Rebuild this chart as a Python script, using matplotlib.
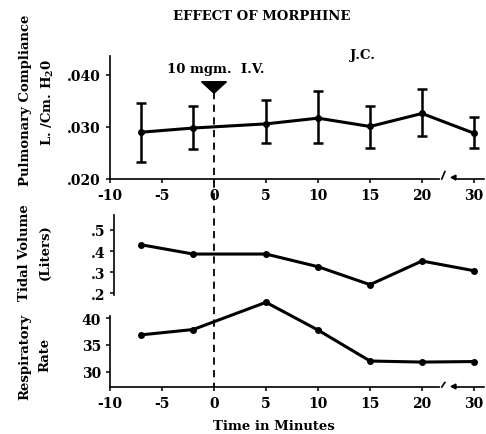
import matplotlib
matplotlib.use('Agg')
import matplotlib.pyplot as plt
from matplotlib.transforms import blended_transform_factory
from matplotlib.lines import Line2D

plt.rcParams['font.family'] = ['DejaVu Serif']
plt.rcParams['font.weight'] = 'bold'
plt.rcParams['mathtext.fontset'] = 'dejavuserif'
plt.rcParams['mathtext.default'] = 'bf'

# data (time in minutes)
minutes = [-7, -2, 5, 10, 15, 20, 30]
compliance = [0.0290, 0.0298, 0.0306, 0.0317, 0.0301, 0.0326, 0.0288]
compliance_hi = [0.0346, 0.0341, 0.0352, 0.0369, 0.0341, 0.0373, 0.0320]
compliance_lo = [0.0232, 0.0258, 0.0269, 0.0269, 0.0260, 0.0283, 0.0260]
tidal_volume = [0.430, 0.386, 0.386, 0.326, 0.241, 0.353, 0.307]
resp_rate = [36.9, 37.9, 43.0, 37.8, 32.0, 31.8, 31.9]

x_ticks = [-10, -5, 0, 5, 10, 15, 20, 30]


def pos(t):
    # axis is broken after 20: 20..30 squeezed into 5 units
    return t if t <= 20 else 20 + (t - 20) / 2


W, H = 486, 435
fig = plt.figure(figsize=(W / 100, H / 100), dpi=100)


def rect(left, top, right, bottom):
    return [left / W, 1 - bottom / H, (right - left) / W, (bottom - top) / H]


xl = (-10, 26)
ax_top = fig.add_axes(rect(110, 57, 484.4, 180))
ax_tv = fig.add_axes(rect(110, 210, 484.4, 310))
ax_rr = fig.add_axes(rect(110, 312, 484.4, 388))
ax_tv.patch.set_alpha(0)
ax_rr.patch.set_alpha(0)

xs = [pos(t) for t in minutes]
lw = 2.2

# pulmonary compliance with error bars
yerr = [[c - lo for c, lo in zip(compliance, compliance_lo)],
        [hi - c for c, hi in zip(compliance, compliance_hi)]]
ax_top.errorbar(xs, compliance, yerr=yerr, color='black', lw=lw, elinewidth=1.8,
                capsize=3.5, capthick=1.8, marker='o', ms=4)
ax_top.set_ylim(0.020, 0.04365)
ax_top.set_yticks([0.020, 0.030, 0.040])
ax_top.set_yticklabels(['.020', '.030', '.040'])

ax_tv.plot(xs, tidal_volume, color='black', lw=lw, marker='o', ms=4, clip_on=False)
ax_tv.set_ylim(0.1256, 0.5995)
ax_tv.set_yticks([0.2, 0.3, 0.4, 0.5])
ax_tv.set_yticklabels(['.2', '.3', '.4', '.5'])

ax_rr.plot(xs, resp_rate, color='black', lw=lw, marker='o', ms=4, clip_on=False)
ax_rr.set_ylim(27.13, 41.37)
ax_rr.set_yticks([30, 35, 40])

for ax in (ax_top, ax_tv, ax_rr):
    ax.set_xlim(*xl)
    for s in ('top', 'right'):
        ax.spines[s].set_visible(False)
    for s in ('left', 'bottom'):
        ax.spines[s].set_linewidth(1.2)
    ax.tick_params(length=3, width=1.1, labelsize=10)

ax_tv.spines['bottom'].set_visible(False)
ax_tv.tick_params(axis='x', bottom=False, labelbottom=False)
ax_tv.spines['left'].set_position(('data', -9.6))
ax_tv.spines['left'].set_bounds(0.19, 0.57)
ax_rr.spines['left'].set_bounds(27.13, 40.5)

for ax in (ax_top, ax_rr):
    ax.set_xticks([pos(t) for t in x_ticks])
    ax.set_xticklabels([str(t) for t in x_ticks])
    # axis break mark
    tr = blended_transform_factory(ax.transData, ax.transAxes)
    ax.plot([21.9, 23.0], [0, 0], transform=tr, color='white', lw=3, clip_on=False, zorder=5)
    ax.plot([21.9, 22.2], [0, 0.06], transform=tr, color='black', lw=1.2, clip_on=False, zorder=6)
    ax.plot([23.0], [0.015], transform=tr, color='black', marker='<', ms=3.5, clip_on=False, zorder=6)

# injection marker
ax_top.fill([-1.2, 1.2, 0], [0.0387, 0.0387, 0.0365], color='black', zorder=6)
ax_top.text(0.2, 0.0412, '10 mgm.  I.V.', ha='center', va='center', fontsize=9.5)

# dashed line at time zero through both panels
trf = blended_transform_factory(ax_rr.transData, fig.transFigure)
fig.add_artist(Line2D([0, 0], [1 - 93 / H, 1 - 388 / H], transform=trf,
                      color='black', lw=1.3, ls=(0, (4, 3))))

fig.text(262 / W, 1 - 17 / H, 'EFFECT OF MORPHINE', ha='center', va='center', fontsize=9.5)
fig.text(362 / W, 1 - 55 / H, 'J.C.', ha='center', va='center', fontsize=9.5)
fig.text(274 / W, 1 - 427 / H, 'Time in Minutes', ha='center', va='center', fontsize=9.5)

fig.text(25 / W, 1 - 100 / H, 'Pulmonary Compliance', rotation=90, ha='center', va='center', fontsize=9.5)
fig.text(48 / W, 1 - 102 / H, 'L. /Cm. H$_2$0', rotation=90, ha='center', va='center', fontsize=9.5)
fig.text(25 / W, 1 - 253 / H, 'Tidal Volume', rotation=90, ha='center', va='center', fontsize=9.5)
fig.text(45 / W, 1 - 252 / H, '(Liters)', rotation=90, ha='center', va='center', fontsize=9.5)
fig.text(25 / W, 1 - 357 / H, 'Respiratory', rotation=90, ha='center', va='center', fontsize=9.5)
fig.text(45 / W, 1 - 355 / H, 'Rate', rotation=90, ha='center', va='center', fontsize=9.5)

fig.savefig('out.png', dpi=100)
